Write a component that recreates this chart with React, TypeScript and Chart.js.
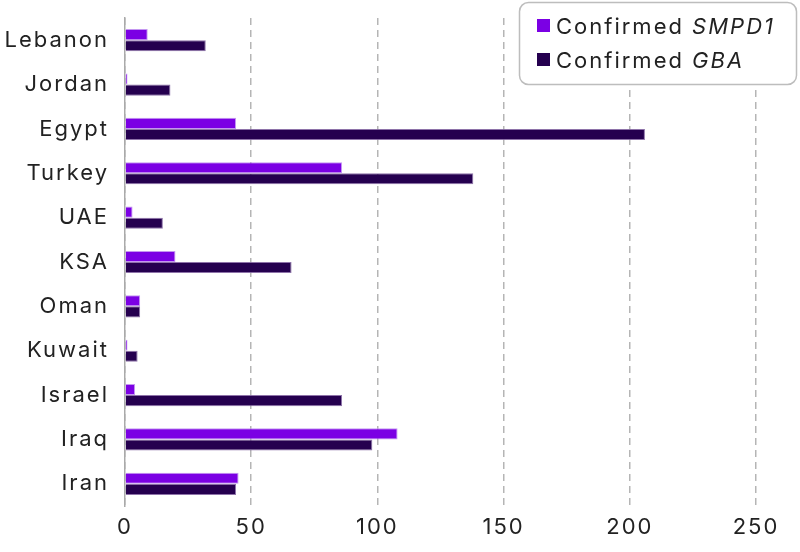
import React, { useEffect, useRef } from "react";
import { Chart, registerables } from "chart.js";

Chart.register(...registerables);

const categories = ["Lebanon", "Jordan", "Egypt", "Turkey", "UAE", "KSA", "Oman", "Kuwait", "Israel", "Iraq", "Iran"];
const smpd1Values = [9, 1, 44, 86, 3, 20, 6, 1, 4, 108, 45];
const gbaValues = [32, 18, 206, 138, 15, 66, 6, 5, 86, 98, 44];
const xTicks = [0, 50, 100, 150, 200, 250];
const legendItems = [
  { plain: "Confirmed ", italic: "SMPD1", color: "#7B00E4" },
  { plain: "Confirmed ", italic: "GBA", color: "#25004F" },
];

const FONT = "Inter, 'Open Sans', sans-serif";
const SIZE = 22;
const SPACING = "2px";

const legendPlugin = {
  id: "customLegend",
  beforeLayout(chart: any) {
    chart.ctx.letterSpacing = SPACING;
  },
  beforeDraw(chart: any) {
    chart.ctx.letterSpacing = SPACING;
  },
  afterDraw(chart: any) {
    const ctx = chart.ctx;
    ctx.save();
    ctx.letterSpacing = SPACING;
    const bx = 519.5, by = 2.5, bw = 277, bh = 82;
    ctx.beginPath();
    ctx.roundRect(bx, by, bw, bh, 9);
    ctx.fillStyle = "#ffffff";
    ctx.fill();
    ctx.lineWidth = 1.5;
    ctx.strokeStyle = "#bdbdbd";
    ctx.stroke();
    legendItems.forEach((it, i) => {
      const baseY = 34 + i * 34;
      ctx.fillStyle = it.color;
      ctx.fillRect(537, baseY - 15, 13, 13);
      ctx.fillStyle = "#222222";
      ctx.textBaseline = "alphabetic";
      ctx.textAlign = "left";
      ctx.font = `${SIZE}px ${FONT}`;
      ctx.fillText(it.plain, 556, baseY);
      const w = ctx.measureText(it.plain).width;
      ctx.font = `italic ${SIZE}px ${FONT}`;
      ctx.fillText(it.italic, 556 + w, baseY);
    });
    ctx.restore();
  },
};

export default function App() {
  const ref = useRef<HTMLCanvasElement>(null);
  useEffect(() => {
    if (!ref.current) return;
    const chart = new Chart(ref.current, {
      type: "bar",
      data: {
        labels: categories,
        datasets: [
          {
            label: "Confirmed SMPD1",
            data: smpd1Values,
            backgroundColor: "#7B00E4",
            borderColor: "rgba(190,140,240,0.9)",
            borderWidth: 1,
          },
          {
            label: "Confirmed GBA",
            data: gbaValues,
            backgroundColor: "#25004F",
            borderColor: "rgba(130,100,160,0.9)",
            borderWidth: 1,
          },
        ],
      },
      options: {
        indexAxis: "y",
        responsive: false,
        animation: false,
        devicePixelRatio: 1,
        layout: { padding: { top: 18, right: 44, left: 0, bottom: 0 } },
        datasets: { bar: { categoryPercentage: 0.5, barPercentage: 1.0 } },
        plugins: { legend: { display: false }, tooltip: { enabled: false } },
        scales: {
          x: {
            min: 0,
            max: 250,
            afterFit(scale: any) {
              scale.height = 46;
              scale.paddingLeft = 0;
              scale.paddingRight = 0;
            },
            afterBuildTicks(scale: any) {
              scale.ticks = xTicks.map((v) => ({ value: v }));
            },
            grid: {
              color: "#b5b5b5",
              lineWidth: 1.5,
              drawTicks: false,
            },
            border: { display: false, dash: [7, 5] },
            ticks: {
              padding: 8,
              color: "#222222",
              font: { family: FONT, size: SIZE },
            },
          },
          y: {
            afterFit(scale: any) {
              scale.width = 125;
              scale.paddingTop = 0;
              scale.paddingBottom = 0;
            },
            grid: { display: false, drawTicks: false },
            border: { display: true, color: "#aaaaaa", width: 1.5 },
            ticks: {
              padding: 16,
              color: "#222222",
              font: { family: FONT, size: SIZE },
            },
          },
        },
      },
      plugins: [legendPlugin],
    } as any);
    return () => chart.destroy();
  }, []);
  return (
    <div style={{ position: "absolute", left: 0, top: 0, width: 800, height: 552 }}>
      <canvas ref={ref} width={800} height={552} style={{ width: 800, height: 552 }} />
    </div>
  );
}
